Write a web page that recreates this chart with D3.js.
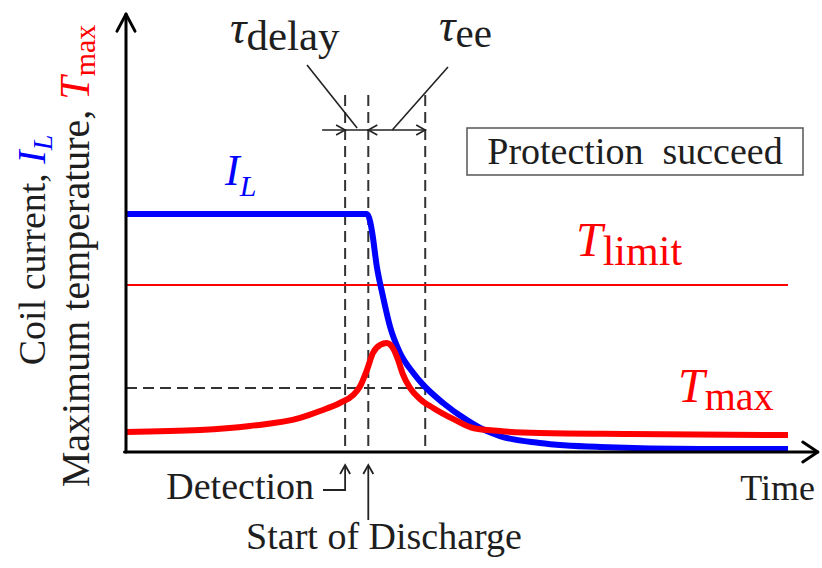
<!DOCTYPE html>
<html>
<head>
<meta charset="utf-8">
<script src="https://cdn.jsdelivr.net/npm/d3@7"></script>
<style>
  html, body { margin: 0; padding: 0; background: #fff; }
  svg { display: block; }
</style>
</head>
<body>
<svg id="chart" width="822" height="568"></svg>
<script>
// Coil current (normalised, % of operating current) over time
const ilTime = [0, 36.4, 36.9, 37.2, 37.9, 38.7, 39.9, 41.4, 43.4, 44.9, 47.9, 51.5, 53.5, 56.5, 62.5, 71.6, 86.7, 100];
const ilValues = [100, 100, 96.6, 92.0, 77.7, 66.8, 52.5, 41.6, 33.2, 28.2, 20.6, 13.4, 10.1, 6.7, 3.8, 2.1, 1.3, 1.3];

// Maximum temperature (same arbitrary scale)
const tmaxTime = [0, 11.2, 18.7, 26.3, 29.3, 32.3, 34.3, 35.3, 36.4, 37.3, 38.4, 39.4, 40.3, 41.1, 41.8, 42.9, 44.4, 46.4, 49.4, 52.4, 56.5, 62.5, 76.1, 100];
const tmaxValues = [8.4, 9.2, 10.9, 14.3, 17.2, 20.6, 23.9, 27.3, 34.5, 41.6, 45.0, 45.8, 43.7, 38.7, 32.8, 26.9, 22.3, 18.5, 13.9, 10.1, 8.8, 8.0, 7.6, 7.1];

// Limit temperature and event times
const tLimit = 70.2;
const tAtDetection = 26.9;
const eventTimes = { detection: 33.1, discharge: 36.6, endDump: 45.2 };
const axisLabels = { x: "Time", yLine1: "Coil current, ", yLine2: "Maximum temperature, " };

const FONT = "'Liberation Serif', Tinos, 'Times New Roman', 'DejaVu Serif', serif";
const svg = d3.select("#chart").attr("font-family", FONT);
const x = d3.scaleLinear().domain([0, 100]).range([126, 788]);
const y = d3.scaleLinear().domain([0, 100]).range([452, 214]);

const INK = "#1e1e1e";
const RED = "#ff0000";
const BLUE = "#0000ff";

// Dashed guide lines at the event times
const guideTop = 150;
[eventTimes.detection, eventTimes.discharge, eventTimes.endDump].forEach(t => {
  svg.append("line")
    .attr("x1", x(t)).attr("x2", x(t))
    .attr("y1", y(guideTop)).attr("y2", y(0))
    .attr("stroke", "#333").attr("stroke-width", 2)
    .attr("stroke-dasharray", "11,6");
});
// Temperature reached at detection
svg.append("line")
  .attr("x1", x(0)).attr("x2", x(eventTimes.endDump))
  .attr("y1", y(tAtDetection)).attr("y2", y(tAtDetection))
  .attr("stroke", "#333").attr("stroke-width", 2)
  .attr("stroke-dasharray", "11,6");

// T_limit line
svg.append("line")
  .attr("x1", x(0)).attr("x2", x(100))
  .attr("y1", y(tLimit)).attr("y2", y(tLimit))
  .attr("stroke", RED).attr("stroke-width", 2);

const line = d3.line().curve(d3.curveMonotoneX);

// Coil current curve
svg.append("path")
  .attr("d", line(ilTime.map((t, i) => [x(t), y(ilValues[i])])))
  .attr("fill", "none").attr("stroke", BLUE).attr("stroke-width", 6)
  .attr("stroke-linejoin", "round");

// Maximum temperature curve
svg.append("path")
  .attr("d", line(tmaxTime.map((t, i) => [x(t), y(tmaxValues[i])])))
  .attr("fill", "none").attr("stroke", RED).attr("stroke-width", 6)
  .attr("stroke-linejoin", "round");

// Axes with open arrow heads
const axisG = svg.append("g").attr("stroke", "#000").attr("stroke-width", 3).attr("fill", "none")
  .attr("stroke-linecap", "round").attr("stroke-linejoin", "round");
const yTop = 184, xEnd = 104.5;
axisG.append("path").attr("d", `M${x(0)},${y(0)}V${y(yTop)}`);
axisG.append("path").attr("d", `M${x(0) - 9},${y(yTop) + 17}L${x(0)},${y(yTop)}L${x(0) + 9},${y(yTop) + 17}`);
axisG.append("path").attr("d", `M${x(0) - 1.5},${y(0)}H${x(xEnd)}`);
axisG.append("path").attr("d", `M${x(xEnd) - 15},${y(0) - 10}L${x(xEnd)},${y(0)}L${x(xEnd) - 15},${y(0) + 10}`);

// Dimension arrows for tau_delay and tau_ee
const dimV = 135.3;
const dimY = y(dimV);
const dimG = svg.append("g").attr("stroke", "#222").attr("stroke-width", 1.6).attr("fill", "none");
dimG.append("path").attr("d", `M${x(eventTimes.detection) - 23},${dimY}H${x(eventTimes.endDump)}`);
function head(px, dir) {
  dimG.append("path").attr("d", `M${px - dir * 9},${dimY - 5}L${px},${dimY}L${px - dir * 9},${dimY + 5}`);
}
head(x(eventTimes.detection), 1);
head(x(eventTimes.discharge), -1);
head(x(eventTimes.endDump), 1);
// Leader lines to the labels
dimG.append("path").attr("d", `M307,65L${x(eventTimes.detection) + 12},${dimY - 2}`);
dimG.append("path").attr("d", `M448,67L${x(eventTimes.discharge) + 24},${dimY}`);

// Math-style label helper: italic symbol with upright subscript
function mathLabel(px, py, sym, sub, color, size, subSize, subDy) {
  const t = svg.append("text").attr("x", px).attr("y", py).attr("fill", color);
  t.append("tspan").attr("font-style", "italic").attr("font-size", size).text(sym);
  t.append("tspan").attr("font-size", subSize).attr("dy", subDy).text(sub);
  return t;
}
mathLabel(230, 43, "τ", "delay", INK, 46, 43, 7);
mathLabel(439, 41, "τ", "ee", INK, 46, 41, 6);
mathLabel(225, 185, "I", "L", BLUE, 44, 30, 11).select("tspan:nth-child(2)").attr("font-style", "italic");
mathLabel(576, 256, "T", "limit", RED, 48, 42, 9);
mathLabel(678, 402, "T", "max", RED, 48, 40, 8);

// Status box
svg.append("rect").attr("x", 467).attr("y", 128).attr("width", 336).attr("height", 47)
  .attr("fill", "#fff").attr("stroke", "#555").attr("stroke-width", 1.5);
svg.append("text").attr("x", 635).attr("y", 164).attr("text-anchor", "middle")
  .attr("font-size", 38).attr("fill", INK).attr("xml:space", "preserve")
  .style("white-space", "pre").text("Protection  succeed");

// Axis titles
svg.append("text").attr("x", 815).attr("y", 500).attr("text-anchor", "end")
  .attr("font-size", 36).attr("fill", INK).text(axisLabels.x);

const yl1 = svg.append("text").attr("transform", "translate(45,250) rotate(-90)")
  .attr("text-anchor", "middle").attr("font-size", 38).attr("fill", INK);
yl1.append("tspan").text(axisLabels.yLine1);
yl1.append("tspan").attr("fill", BLUE).attr("font-style", "italic").attr("font-size", 40).text("I");
yl1.append("tspan").attr("fill", BLUE).attr("font-style", "italic").attr("font-size", 28).attr("dy", 7).text("L");

const yl2 = svg.append("text").attr("transform", "translate(89,256) rotate(-90)")
  .attr("text-anchor", "middle").attr("font-size", 40).attr("fill", INK);
yl2.append("tspan").text(axisLabels.yLine2);
yl2.append("tspan").attr("fill", RED).attr("font-style", "italic").attr("font-size", 42).text("T");
yl2.append("tspan").attr("fill", RED).attr("font-size", 30).attr("dy", 6).text("max");

// Event callouts under the time axis
const callG = svg.append("g").attr("stroke", "#222").attr("stroke-width", 1.8).attr("fill", "none");
const xd = x(eventTimes.detection), xs = x(eventTimes.discharge);
callG.append("path").attr("d", `M323,490H${xd}V466`);
callG.append("path").attr("d", `M${xd - 5},474L${xd},465L${xd + 5},474`);
callG.append("path").attr("d", `M${xs},520V466`);
callG.append("path").attr("d", `M${xs - 5},474L${xs},465L${xs + 5},474`);

svg.append("text").attr("x", 314).attr("y", 499).attr("text-anchor", "end")
  .attr("font-size", 38).attr("fill", INK).text("Detection");
svg.append("text").attr("x", 384).attr("y", 549).attr("text-anchor", "middle")
  .attr("font-size", 38).attr("fill", INK).text("Start of Discharge");
</script>
</body>
</html>
